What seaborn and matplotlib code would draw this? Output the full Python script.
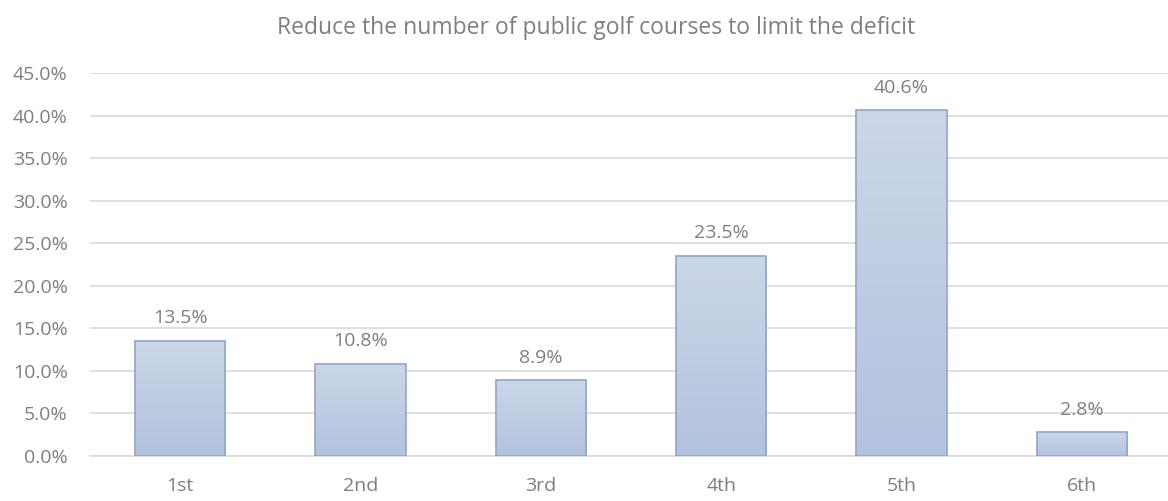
import matplotlib
matplotlib.use("Agg")
import matplotlib.pyplot as plt
import seaborn as sns
import numpy as np
import pandas as pd
from matplotlib.colors import LinearSegmentedColormap

categories = ["1st", "2nd", "3rd", "4th", "5th", "6th"]
values = [13.5, 10.8, 8.9, 23.5, 40.6, 2.8]
title = "Reduce the number of public golf courses to limit the deficit"
yticks = [0, 5, 10, 15, 20, 25, 30, 35, 40, 45]

sns.set_theme(style="white")
plt.rcParams["font.family"] = ["Open Sans", "DejaVu Sans"]

df = pd.DataFrame({"cat": categories, "val": values})

fig = plt.figure(figsize=(11.68, 5.01), dpi=100)
ax = fig.add_axes([90 / 1168, 45 / 501, 1082 / 1168, 383 / 501])

sns.barplot(data=df, x="cat", y="val", ax=ax, width=0.5,
            color="#bfcce3", edgecolor="#8ea6cd", linewidth=1.2, zorder=3)

ax.set_xlim(-0.5, 5.5)
ax.set_ylim(0, 45)
ax.set_yticks(yticks)
ax.set_yticklabels([f"{t:.1f}%" for t in yticks])

# gradient fill in each bar
cmap = LinearSegmentedColormap.from_list("g", ["#b3c2de", "#cbd6e7"])
grad = np.linspace(0, 1, 256).reshape(-1, 1)
for p in ax.patches:
    x0, y0 = p.get_x(), p.get_y()
    w, h = p.get_width(), p.get_height()
    im = ax.imshow(grad, extent=[x0, x0 + w, y0, y0 + h], origin="lower",
                   cmap=cmap, aspect="auto", zorder=3.5)
    im.set_clip_path(p)
    p.set_facecolor("none")
    p.set_zorder(4)

ax.set_xlim(-0.5, 5.5)
ax.set_ylim(0, 45)

for i, v in enumerate(values):
    ax.text(i, v + 1.6, f"{v:.1f}%", ha="center", va="bottom",
            fontsize=14, color="#7f7f7f")

ax.yaxis.grid(True, color="#d9d9d9", linewidth=1.2, zorder=0)
ax.set_axisbelow(True)
for s in ["top", "right", "left"]:
    ax.spines[s].set_visible(False)
ax.spines["bottom"].set_color("#d9d9d9")
ax.spines["bottom"].set_linewidth(1.2)
ax.tick_params(axis="both", length=0, labelsize=14, colors="#7f7f7f")
ax.tick_params(axis="x", pad=15)
ax.tick_params(axis="y", pad=16)
ax.set_xlabel("")
ax.set_ylabel("")

fig.text(596 / 1168, 1 - 28 / 501, title, ha="center", va="center",
         fontsize=16.5, color="#7f7f7f")

fig.savefig("out.png", dpi=100)
